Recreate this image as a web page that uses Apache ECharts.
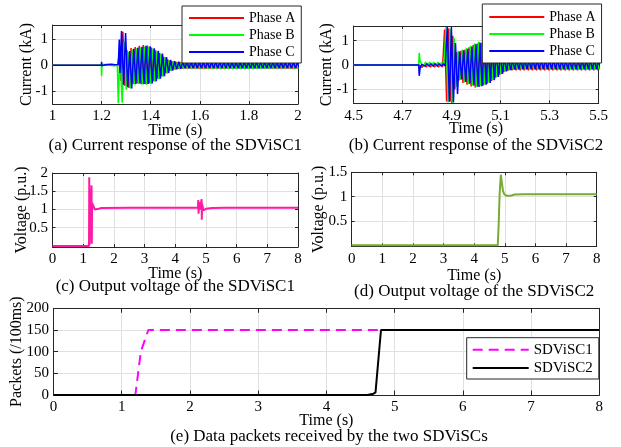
<!DOCTYPE html>
<html>
<head>
<meta charset="utf-8">
<script src="https://cdn.jsdelivr.net/npm/echarts@6/dist/echarts.min.js"></script>
<style>
  html, body { margin: 0; padding: 0; background: #fff; }
  #chart { width: 621px; height: 447px; }
</style>
</head>
<body>
<div id="chart"></div>
<script>
// ---------- tick labels ----------
const xTicksA = [1, 1.2, 1.4, 1.6, 1.8, 2];
const xTicksB = [4.5, 4.7, 4.9, 5.1, 5.3, 5.5];
const xTicksLong = [0, 1, 2, 3, 4, 5, 6, 7, 8];
const yTicksCur = [-1, 0, 1];
const yTicksV1 = [0.5, 1, 1.5, 2];
const yTicksV2 = [0.5, 1, 1.5];
const yTicksPk = [0, 50, 100, 150, 200];

// ---------- names and captions ----------
const phaseNames = ['Phase A', 'Phase B', 'Phase C'];
const packetNames = ['SDViSC1', 'SDViSC2'];
const captions = [
  '(a) Current response of the SDViSC1',
  '(b) Current response of the SDViSC2',
  '(c) Output voltage of the SDViSC1',
  '(d) Output voltage of the SDViSC2',
  '(e) Data packets received by the two SDViSCs'
];

// ---------- three-phase currents ----------
// Oscillation extrema are recorded half a cycle apart (60 Hz);
// the three phases lag each other by a third of a cycle.
const HALF_CYCLE = 1 / 120;
const PHASE_LAG = [0, 1 / 180, 1 / 90];

// SDViSC1: connection at 1.2 s, energisation at ~1.27 s
const osc1Start = 1.27;
const pre1A = [[1, 0], [1.2, 0], [1.201, -0.06], [1.203, 0.03], [1.21, 0], [1.248, 0.03], [1.252, 0], [1.265, 0]];
const pre1B = [[1, 0], [1.199, 0], [1.2, -0.42], [1.202, 0.04], [1.21, -0.02], [1.25, -0.02], [1.264, 0], [1.268, -1.47], [1.272, -0.2]];
const pre1C = [[1, 0], [1.199, 0], [1.2, 0.13], [1.201, -0.02], [1.22, 0.03], [1.24, 0.04], [1.247, 0.1], [1.25, 0.02], [1.268, 0.03], [1.272, 1.0], [1.275, -0.3]];

const cur1A = [
  0.30, -0.60, 1.30, -0.80,
  0.58, -0.88, 0.67, -0.72, 0.71, -0.70, 0.75, -0.73, 0.78, -0.73,
  0.76, -0.70, 0.69, -0.62, 0.58, -0.52, 0.47, -0.42, 0.33, -0.30,
  0.22, -0.21, 0.16, -0.16, 0.13, -0.14,
  0.12, -0.13, 0.12, -0.13, 0.12, -0.13, 0.12, -0.13, 0.12, -0.13,
  0.12, -0.13, 0.12, -0.13, 0.12, -0.13, 0.12, -0.13, 0.12, -0.13,
  0.12, -0.13, 0.12, -0.13, 0.12, -0.13, 0.12, -0.13, 0.12, -0.13,
  0.12, -0.13, 0.12, -0.13, 0.12, -0.13, 0.12, -0.13, 0.12, -0.13,
  0.12, -0.13, 0.12, -0.13, 0.12, -0.13, 0.12, -0.13, 0.12, -0.13,
  0.12, -0.13, 0.12, -0.13, 0.12, -0.13, 0.12, -0.13
];
const cur1B = [
  0.30, -1.45, 0.90, -0.95,
  0.52, -0.90, 0.62, -0.75, 0.66, -0.72, 0.70, -0.74, 0.73, -0.75,
  0.72, -0.72, 0.64, -0.64, 0.54, -0.54, 0.43, -0.44, 0.31, -0.32,
  0.20, -0.23, 0.15, -0.18, 0.13, -0.16,
  0.12, -0.15, 0.12, -0.15, 0.12, -0.15, 0.12, -0.15, 0.12, -0.15,
  0.12, -0.15, 0.12, -0.15, 0.12, -0.15, 0.12, -0.15, 0.12, -0.15,
  0.12, -0.15, 0.12, -0.15, 0.12, -0.15, 0.12, -0.15, 0.12, -0.15,
  0.12, -0.15, 0.12, -0.15, 0.12, -0.15, 0.12, -0.15, 0.12, -0.15,
  0.12, -0.15, 0.12, -0.15, 0.12, -0.15, 0.12, -0.15, 0.12, -0.15,
  0.12, -0.15, 0.12, -0.15, 0.12, -0.15, 0.12, -0.15
];
const cur1C = [
  1.33, -0.75, 1.25, -0.85,
  0.55, -0.90, 0.64, -0.72, 0.68, -0.70, 0.72, -0.72, 0.75, -0.72,
  0.74, -0.70, 0.66, -0.62, 0.56, -0.52, 0.45, -0.42, 0.32, -0.30,
  0.21, -0.21, 0.16, -0.16, 0.14, -0.14,
  0.14, -0.12, 0.14, -0.12, 0.14, -0.12, 0.14, -0.12, 0.14, -0.12,
  0.14, -0.12, 0.14, -0.12, 0.14, -0.12, 0.14, -0.12, 0.14, -0.12,
  0.14, -0.12, 0.14, -0.12, 0.14, -0.12, 0.14, -0.12, 0.14, -0.12,
  0.14, -0.12, 0.14, -0.12, 0.14, -0.12, 0.14, -0.12, 0.14, -0.12,
  0.14, -0.12, 0.14, -0.12, 0.14, -0.12, 0.14, -0.12, 0.14, -0.12,
  0.14, -0.12, 0.14, -0.12, 0.14, -0.12, 0.14, -0.12
];

// SDViSC2: connection at ~4.77 s, energisation at ~4.87 s
const osc2Start = 4.7715;
const pre2A = [[4.5, 0], [4.765, 0]];
const pre2B = [[4.5, 0], [4.766, 0], [4.768, 0.5], [4.771, 0.2], [4.774, 0.1]];
const pre2C = [[4.5, 0], [4.766, 0], [4.768, -0.45], [4.772, -0.1], [4.778, 0.02]];

const cur2A = [
  0.02, -0.10, 0.02, -0.09, 0.02, -0.09, 0.01, -0.09, 0.02, -0.09, 0.02, -0.09,
  1.45, -1.50, 1.50, -1.50, 1.20, -1.00,
  0.52, -0.64, 0.58, -0.74, 0.63, -0.82, 0.72, -0.89, 0.82, -0.93,
  0.88, -0.91, 0.90, -0.85, 0.84, -0.77, 0.72, -0.66, 0.57, -0.53,
  0.42, -0.40, 0.31, -0.30, 0.23, -0.24, 0.20, -0.22,
  0.17, -0.22, 0.17, -0.22, 0.17, -0.22, 0.17, -0.22, 0.17, -0.22,
  0.17, -0.22, 0.17, -0.22, 0.17, -0.22, 0.17, -0.22, 0.17, -0.22,
  0.17, -0.22, 0.17, -0.22, 0.17, -0.22, 0.17, -0.22, 0.17, -0.22,
  0.17, -0.22, 0.17, -0.22, 0.17, -0.22, 0.17, -0.22, 0.17, -0.22,
  0.17, -0.22
];
const cur2B = [
  0.13, -0.05, 0.11, -0.03, 0.11, -0.03, 0.11, -0.03, 0.11, -0.03, 0.11, -0.03,
  1.55, -1.55, 1.50, -1.56, 1.10, -0.90,
  0.58, -0.62, 0.63, -0.72, 0.70, -0.79, 0.79, -0.86, 0.89, -0.90,
  0.96, -0.87, 0.95, -0.80, 0.88, -0.72, 0.76, -0.62, 0.61, -0.50,
  0.46, -0.38, 0.34, -0.28, 0.26, -0.22, 0.22, -0.20,
  0.19, -0.19, 0.19, -0.19, 0.19, -0.19, 0.19, -0.19, 0.19, -0.19,
  0.19, -0.19, 0.19, -0.19, 0.19, -0.19, 0.19, -0.19, 0.19, -0.19,
  0.19, -0.19, 0.19, -0.19, 0.19, -0.19, 0.19, -0.19, 0.19, -0.19,
  0.19, -0.19, 0.19, -0.19, 0.19, -0.19, 0.19, -0.19, 0.19, -0.19,
  0.19, -0.19
];
const cur2C = [
  0.05, -0.05, 0.05, -0.05, 0.05, -0.05, 0.05, -0.05, 0.05, -0.05, 0.05, -0.05,
  1.58, -1.52, 1.55, -1.55, 0.90, -1.20,
  0.55, -0.60, 0.60, -0.70, 0.66, -0.77, 0.75, -0.85, 0.85, -0.90,
  0.92, -0.88, 0.93, -0.82, 0.87, -0.74, 0.75, -0.63, 0.60, -0.50,
  0.45, -0.37, 0.33, -0.27, 0.25, -0.21, 0.22, -0.19,
  0.21, -0.18, 0.21, -0.18, 0.21, -0.18, 0.21, -0.18, 0.21, -0.18,
  0.21, -0.18, 0.21, -0.18, 0.21, -0.18, 0.21, -0.18, 0.21, -0.18,
  0.21, -0.18, 0.21, -0.18, 0.21, -0.18, 0.21, -0.18, 0.21, -0.18,
  0.21, -0.18, 0.21, -0.18, 0.21, -0.18, 0.21, -0.18, 0.21, -0.18,
  0.21, -0.18
];

// ---------- output voltages (p.u.) ----------
const volt1 = [
  [0, 0], [1.19, 0], [1.198, 1.88], [1.205, 0.02], [1.265, 0.02], [1.272, 1.66], [1.28, 0.06],
  [1.29, 1.18], [1.33, 1.13], [1.38, 1.0], [1.43, 0.97], [1.5, 1.02], [1.6, 1.04], [2.5, 1.045],
  [4.74, 1.045], [4.75, 1.26], [4.76, 0.88], [4.77, 1.2], [4.8, 1.0], [4.85, 1.02], [4.86, 1.28],
  [4.865, 0.72], [4.875, 1.15], [4.92, 0.97], [5.0, 1.02], [5.2, 1.04], [5.6, 1.05], [8, 1.045]
];
const volt2 = [
  [0, 0], [4.77, 0], [4.8, 0.45], [4.83, 1.05], [4.87, 1.45], [4.9, 1.3], [4.94, 1.12], [4.98, 1.05],
  [5.05, 1.02], [5.2, 1.02], [5.32, 1.045], [5.6, 1.05], [8, 1.05]
];

// ---------- received packets per 100 ms ----------
const packets1 = [[0, 0], [1.2, 0], [1.28, 100], [1.39, 150], [8, 150]];
const packets2 = [[0, 0], [4.6, 0], [4.69, 3], [4.72, 6], [4.8, 150], [8, 150]];

// ---------- styling ----------
const FONT = '"Liberation Serif", "Times New Roman", serif';
const INK = '#262626';
const GRID_LINE = '#e0e0e0';
const PHASE_COLORS = ['#ff0000', '#00ff00', '#0000ff'];

function phaseTrace(prelude, start, lag, extrema) {
  return prelude.concat(extrema.map((v, i) => [start + lag + i * HALF_CYCLE, v]));
}

const panels = [
  { grid: { left: 52.5, top: 25, width: 245.5, height: 79 },
    x: { min: 1, max: 2, ticks: xTicksA, gap: 19 },
    y: { min: -1.5, max: 1.56, ticks: yTicksCur, name: 'Current (kA)', gap: 17.5 }, tick: 3 },
  { grid: { left: 353.5, top: 26, width: 245.2, height: 77.3 },
    x: { min: 4.5, max: 5.5, ticks: xTicksB, gap: 17.5 },
    y: { min: -1.58, max: 1.6, ticks: yTicksCur, name: 'Current (kA)', gap: 18.5 }, tick: 3 },
  { grid: { left: 52.5, top: 173, width: 245.5, height: 74 },
    x: { min: 0, max: 8, ticks: xTicksLong, gap: 18.5 },
    y: { min: -0.03, max: 2, ticks: yTicksV1, name: 'Voltage (p.u.)', gap: 23 }, tick: 3 },
  { grid: { left: 351.7, top: 172.3, width: 245, height: 74 },
    x: { min: 0, max: 8, ticks: xTicksLong, gap: 21.5 },
    y: { min: -0.02, max: 1.5, ticks: yTicksV2, name: 'Voltage (p.u.)', gap: 25.4 }, tick: 3 },
  { grid: { left: 53.5, top: 308.3, width: 545.8, height: 86.7 },
    x: { min: 0, max: 8, ticks: xTicksLong, gap: 18 },
    y: { min: 0, max: 200, ticks: yTicksPk, name: 'Packets (/100ms)', gap: 28.6 }, tick: 4.5 }
];

const textStyle = { fontFamily: FONT, color: '#000' };
const xAxis = [], yAxis = [], grid = [];
panels.forEach((p, gi) => {
  grid.push(Object.assign({ containLabel: false, outerBoundsMode: 'none' }, p.grid));
  const tick = (vals) => ({ show: true, inside: true, length: p.tick, customValues: vals, lineStyle: { color: INK, width: 1 } });
  const line = { show: true, onZero: false, lineStyle: { color: INK, width: 1 } };
  xAxis.push({
    type: 'value', gridIndex: gi, position: 'bottom', min: p.x.min, max: p.x.max,
    name: 'Time (s)', nameLocation: 'middle', nameGap: p.x.gap, nameMoveOverlap: false,
    nameTextStyle: Object.assign({ fontSize: 16 }, textStyle),
    axisLine: line, axisTick: tick(p.x.ticks),
    axisLabel: Object.assign({ customValues: p.x.ticks, margin: 5, fontSize: 15 }, textStyle),
    splitLine: { show: true, lineStyle: { color: GRID_LINE, width: 1 } }
  });
  xAxis.push({
    type: 'value', gridIndex: gi, position: 'top', min: p.x.min, max: p.x.max,
    axisLine: line, axisTick: tick(p.x.ticks), axisLabel: { show: false }, splitLine: { show: false }
  });
  yAxis.push({
    type: 'value', gridIndex: gi, position: 'left', min: p.y.min, max: p.y.max,
    name: p.y.name, nameLocation: 'middle', nameGap: p.y.gap, nameMoveOverlap: false,
    nameTextStyle: Object.assign({ fontSize: 16 }, textStyle),
    axisLine: line, axisTick: tick(p.y.ticks),
    axisLabel: Object.assign({ customValues: p.y.ticks, margin: 4.5, fontSize: 15 }, textStyle),
    splitLine: { show: true, lineStyle: { color: GRID_LINE, width: 1 } }
  });
  yAxis.push({
    type: 'value', gridIndex: gi, position: 'right', min: p.y.min, max: p.y.max,
    axisLine: line, axisTick: tick(p.y.ticks), axisLabel: { show: false }, splitLine: { show: false }
  });
});

function lineSeries(name, gi, data, color, width, type) {
  return {
    type: 'line', name, data, xAxisIndex: gi * 2, yAxisIndex: gi * 2,
    symbol: 'none', showSymbol: false, clip: true, silent: true,
    lineStyle: { color, width, type: type || 'solid' }, itemStyle: { color }
  };
}

const series = [
  lineSeries(phaseNames[0], 0, phaseTrace(pre1A, osc1Start, PHASE_LAG[0], cur1A), PHASE_COLORS[0], 1.5),
  lineSeries(phaseNames[1], 0, phaseTrace(pre1B, osc1Start, PHASE_LAG[1], cur1B), PHASE_COLORS[1], 1.5),
  lineSeries(phaseNames[2], 0, phaseTrace(pre1C, osc1Start, PHASE_LAG[2], cur1C), PHASE_COLORS[2], 1.5),
  lineSeries(phaseNames[0], 1, phaseTrace(pre2A, osc2Start, PHASE_LAG[0], cur2A), PHASE_COLORS[0], 1.5),
  lineSeries(phaseNames[1], 1, phaseTrace(pre2B, osc2Start, PHASE_LAG[1], cur2B), PHASE_COLORS[1], 1.5),
  lineSeries(phaseNames[2], 1, phaseTrace(pre2C, osc2Start, PHASE_LAG[2], cur2C), PHASE_COLORS[2], 1.5),
  lineSeries('Voltage SDViSC1', 2, volt1, '#ff19a3', 2),
  lineSeries('Voltage SDViSC2', 3, volt2, '#77ac30', 2),
  lineSeries(packetNames[0], 4, packets1, '#ff00ff', 2, [10, 6]),
  lineSeries(packetNames[1], 4, packets2, '#000000', 2)
];

// legend keys show only the line sample, no marker
const legendBase = {
  orient: 'vertical', selectedMode: false, backgroundColor: '#fff',
  borderColor: INK, borderWidth: 1, borderRadius: 0,
  itemWidth: 55, lineStyle: { width: 2 }, itemStyle: { opacity: 0 }
};
const legend = [
  Object.assign({}, legendBase, {
    data: phaseNames, left: 182, top: 6, padding: [4, 6, 3, 6], itemHeight: 14, itemGap: 1,
    textStyle: Object.assign({ fontSize: 14, lineHeight: 16 }, textStyle)
  }),
  Object.assign({}, legendBase, {
    data: phaseNames, left: 482.3, top: 4, padding: [5, 6, 4, 6], itemHeight: 14, itemGap: 1,
    textStyle: Object.assign({ fontSize: 14, lineHeight: 16 }, textStyle)
  }),
  Object.assign({}, legendBase, {
    data: packetNames, left: 466.7, top: 337.7, padding: [4, 6, 3, 5], itemWidth: 56, itemHeight: 16, itemGap: 2.3,
    textStyle: Object.assign({ fontSize: 15, lineHeight: 16 }, textStyle)
  })
];

const captionPos = [[175.3, 146], [476, 146], [175.3, 287], [474.2, 292], [329, 437]];
const graphic = captions.map((text, i) => ({
  type: 'text', x: captionPos[i][0], y: captionPos[i][1], silent: true,
  style: { text, fill: '#000', font: '17px ' + FONT, align: 'center', verticalAlign: 'middle' }
}));

const chart = echarts.init(document.getElementById('chart'), null, { renderer: 'canvas' });
chart.setOption({
  animation: false,
  backgroundColor: '#fff',
  grid, xAxis, yAxis, series, legend, graphic
});
</script>
</body>
</html>
